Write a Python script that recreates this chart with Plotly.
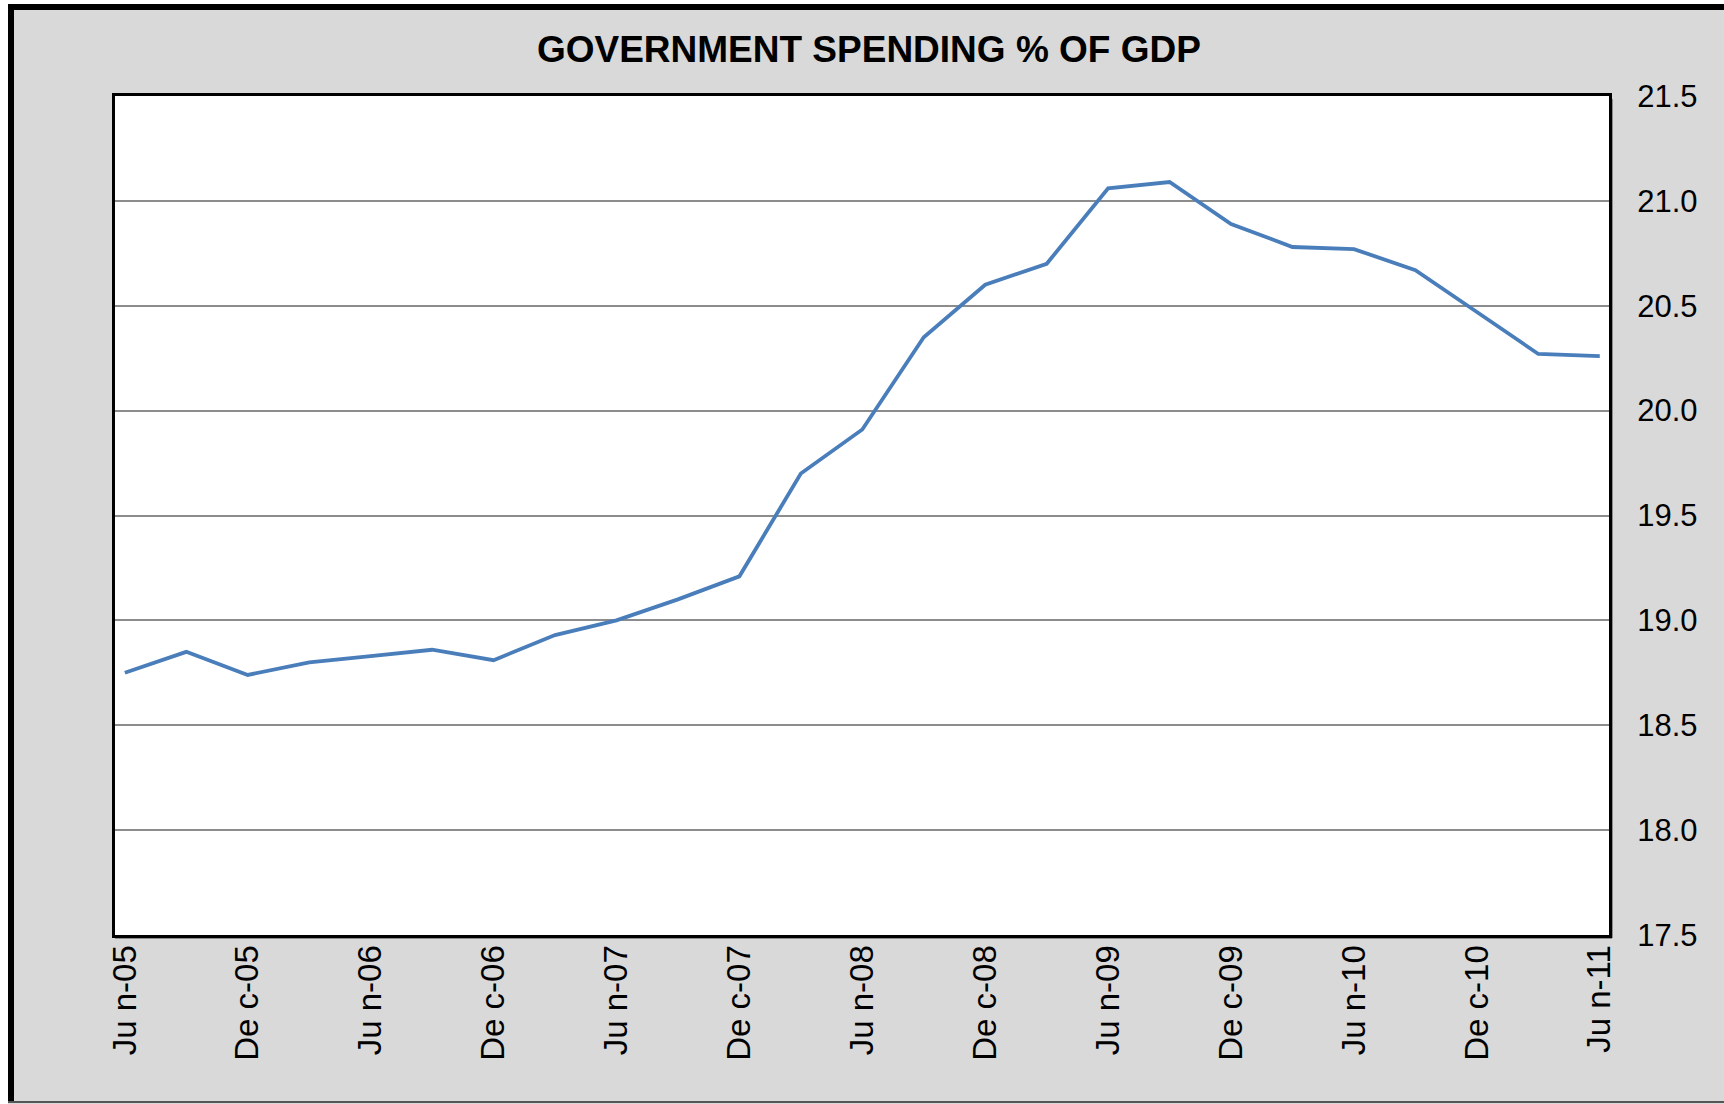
import plotly.graph_objects as go

quarters = ["Jun-05", "Sep-05", "Dec-05", "Mar-06", "Jun-06", "Sep-06", "Dec-06", "Mar-07",
            "Jun-07", "Sep-07", "Dec-07", "Mar-08", "Jun-08", "Sep-08", "Dec-08", "Mar-09",
            "Jun-09", "Sep-09", "Dec-09", "Mar-10", "Jun-10", "Sep-10", "Dec-10", "Mar-11", "Jun-11"]
spending_pct_gdp = [18.75, 18.85, 18.74, 18.80, 18.83, 18.86, 18.81, 18.93,
                    19.00, 19.10, 19.21, 19.70, 19.91, 20.35, 20.60, 20.70,
                    21.06, 21.09, 20.89, 20.78, 20.77, 20.67, 20.47, 20.27, 20.26]
tick_labels = ["Ju n-05", "De c-05", "Ju n-06", "De c-06", "Ju n-07", "De c-07", "Ju n-08",
               "De c-08", "Ju n-09", "De c-09", "Ju n-10", "De c-10", "Ju n-11"]
y_ticks = [17.5, 18.0, 18.5, 19.0, 19.5, 20.0, 20.5, 21.0, 21.5]

W, H = 1724, 1104
L, R, T, B = 115, 1609, 96, 935
PW, PH = R - L, B - T


def px(x):
    return (x - L) / PW


def py(y):
    return (B - y) / PH


x_idx = list(range(len(quarters)))

fig = go.Figure()
fig.add_trace(go.Scatter(
    x=x_idx, y=spending_pct_gdp, mode="lines",
    line=dict(color="#4A7EBB", width=3.8),
    customdata=quarters, hovertemplate="%{customdata}: %{y:.2f}<extra></extra>",
))

shapes = [
    # white strips outside the frame
    dict(type="rect", xref="paper", yref="paper", x0=px(-5), x1=px(W + 5), y0=py(-5), y1=py(4),
         fillcolor="white", line=dict(width=0), layer="below"),
    dict(type="rect", xref="paper", yref="paper", x0=px(-5), x1=px(8), y0=py(-5), y1=py(H + 5),
         fillcolor="white", line=dict(width=0), layer="below"),
    # outer frame
    dict(type="line", xref="paper", yref="paper", x0=px(8), x1=px(W + 5), y0=py(7), y1=py(7),
         line=dict(color="black", width=6)),
    dict(type="line", xref="paper", yref="paper", x0=px(11), x1=px(11), y0=py(4), y1=py(1102),
         line=dict(color="black", width=6)),
    dict(type="line", xref="paper", yref="paper", x0=px(8), x1=px(W + 5), y0=py(1102), y1=py(1102),
         line=dict(color="#555555", width=2)),
    # plot shadow
    dict(type="line", xref="paper", yref="paper", x0=px(L), x1=px(R + 3), y0=py(B + 3), y1=py(B + 3),
         line=dict(color="#8C8C8C", width=2), layer="below"),
    dict(type="line", xref="paper", yref="paper", x0=px(R + 3), x1=px(R + 3), y0=py(T + 3), y1=py(B + 3),
         line=dict(color="#8C8C8C", width=2), layer="below"),
    # plot area background
    dict(type="rect", xref="paper", yref="paper", x0=0, x1=1, y0=0, y1=1,
         fillcolor="white", line=dict(width=0), layer="below"),
]

fig.update_layout(
    width=W, height=H,
    margin=dict(l=L, r=W - R, t=T, b=H - B, pad=0),
    paper_bgcolor="#D9D9D9",
    plot_bgcolor="white",
    showlegend=False,
    shapes=shapes,
    title=dict(
        text="<b>GOVERNMENT SPENDING % OF GDP</b>",
        x=px(868), xanchor="center", y=1 - 49 / H, yanchor="middle",
        font=dict(family="Liberation Sans, Arial", size=37, color="black"),
    ),
    font=dict(family="Liberation Sans, Arial", color="black"),
)

fig.update_xaxes(
    range=[-0.16, 24.15],
    tickmode="array", tickvals=x_idx[::2], ticktext=tick_labels,
    tickangle=-90, tickfont=dict(size=33, color="black"),
    showgrid=False, zeroline=False,
    showline=True, linecolor="black", linewidth=3, mirror=True,
    ticks="", ticklabelstandoff=-6,
)
fig.update_yaxes(
    range=[17.5, 21.5], side="right",
    tickmode="array", tickvals=y_ticks, ticktext=[f"{v:.1f}" for v in y_ticks],
    tickfont=dict(size=31, color="black"),
    showgrid=True, gridcolor="#8C8C8C", gridwidth=1.5,
    zeroline=False,
    showline=True, linecolor="black", linewidth=3, mirror=True,
    ticks="", ticklabelstandoff=19,
)

fig.write_html("out.html", config={"displayModeBar": False},
               post_script="document.body.style.margin='0px';")
